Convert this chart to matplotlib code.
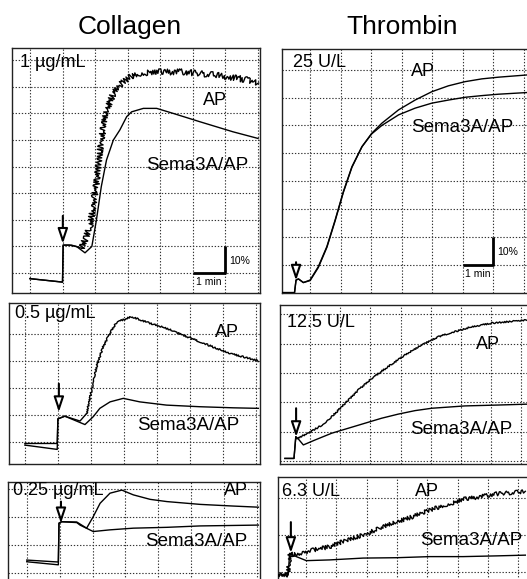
import matplotlib
matplotlib.use("Agg")
import matplotlib.pyplot as plt

plt.rcParams["font.family"] = ["Liberation Sans", "DejaVu Sans"]

# Collagen 1 ug/mL
col1_ap_t = [0, 1.0, 1.02, 1.28, 1.59, 1.84, 2.04, 2.19, 2.35, 2.56, 2.86, 3.17, 3.68, 4.19, 4.7, 5.21, 5.72, 6.23, 6.75, 7.0]
col1_ap_y = [-2.1, -3.4, 10.5, 10.5, 9.3, 17.4, 33.7, 50, 61.3, 67.5, 71.9, 74.4, 75.6, 75.6, 75.6, 75, 74.4, 73.5, 72.4, 71.0]
col1_sema_t = [0, 1.0, 1.02, 1.2, 1.43, 1.69, 1.9, 2.04, 2.19, 2.35, 2.56, 2.76, 2.97, 3.12, 3.48, 3.89, 4.4, 5.21, 6.23, 7.0]
col1_sema_y = [-2.1, -3.4, 10.5, 10.5, 10, 7.6, 10, 19.9, 32.5, 42.5, 50, 53.8, 58.8, 60.6, 61.9, 61.9, 60, 56.9, 53.1, 50.6]

# Collagen 0.5 ug/mL
col05_ap_t = [0, 0.98, 1.0, 1.21, 1.67, 1.87, 2.02, 2.17, 2.37, 2.63, 2.78, 3.23, 3.79, 4.29, 4.8, 5.3, 5.81, 6.31, 7.07]
col05_ap_y = [-0.6, -0.6, 8.5, 9.5, 7.7, 10.5, 19.1, 27.8, 35.2, 41.4, 44.4, 46.3, 43.9, 42, 39.5, 37, 34.6, 32.4, 30]
col05_sema_t = [0, 0.98, 1.0, 1.21, 1.82, 2.07, 2.27, 2.58, 2.98, 3.48, 4.29, 5.3, 6.31, 7.07]
col05_sema_y = [-1.2, -2.8, 8.5, 9.5, 6.4, 9.3, 12.4, 14.8, 16.1, 14.8, 13.6, 13, 12.6, 12.4]

# Collagen 0.25 ug/mL
col025_ap_t = [0, 0.96, 0.98, 1.06, 1.52, 1.82, 2.02, 2.23, 2.53, 2.89, 3.24, 3.75, 4.26, 5.27, 6.28, 7.04]
col025_ap_y = [-5.4, -6.1, 7.8, 8.3, 8.2, 6.0, 10.1, 14.9, 18.5, 19.6, 17.9, 16.3, 15.5, 14.5, 13.9, 13.5]
col025_sema_t = [0, 0.96, 0.98, 1.06, 1.52, 1.62, 2.02, 2.53, 3.24, 4.26, 5.27, 7.04]
col025_sema_y = [-6.0, -7.1, 7.8, 8.3, 8.0, 7.1, 4.8, 5.4, 6.0, 6.3, 6.8, 7.1]

# Thrombin 25 U/L
thr25_ap_t = [0.09, 0.49, 0.54, 0.62, 0.78, 1.0, 1.27, 1.55, 1.82, 2.09, 2.37, 2.70, 3.02, 3.35, 3.90, 4.44, 4.99, 5.53, 6.08, 6.63, 7.17, 8.11]
thr25_ap_y = [-9.9, -9.9, -5.4, -5.0, -6.3, -5.4, -0.6, 6.6, 16.1, 26.3, 35.2, 42.4, 47.2, 50.8, 55.6, 59.1, 62.1, 64.2, 65.7, 66.7, 67.3, 68.1]
thr25_sema_t = [0.09, 0.49, 0.54, 0.62, 0.78, 1.0, 1.27, 1.55, 1.82, 2.09, 2.37, 2.70, 3.02, 3.35, 3.90, 4.44, 4.99, 5.53, 6.08, 6.63, 7.17, 8.11]
thr25_sema_y = [-9.9, -9.9, -5.4, -5.0, -6.3, -5.6, -0.9, 6.3, 15.8, 26.0, 35.0, 42.4, 47.0, 50.0, 53.8, 56.2, 58.0, 59.1, 60.1, 60.7, 61.2, 61.8]

# Thrombin 12.5 U/L
thr12_ap_t = [0.17, 0.47, 0.53, 0.56, 0.94, 1.5, 2.05, 2.6, 3.04, 3.59, 4.15, 4.7, 5.25, 5.8, 6.35, 7.02, 7.57, 8.19]
thr12_ap_y = [-9.1, -9.1, -1.7, -2.3, -0.5, 2.9, 8.5, 14.2, 18.2, 22.2, 26.2, 29.6, 32.4, 34.1, 35.8, 37, 37.5, 38.1]
thr12_sema_t = [0.17, 0.47, 0.53, 0.6, 0.78, 1.17, 1.72, 2.27, 2.82, 3.37, 3.92, 4.48, 5.03, 6.13, 7.23, 8.19]
thr12_sema_y = [-9.1, -9.1, -1.7, -2.3, -4.5, -2.8, -0.5, 1.2, 2.9, 4.6, 6.0, 7.2, 8.0, 8.8, 9.1, 9.4]

# Thrombin 6.3 U/L
thr6_ap_t = [0.08, 0.41, 0.46, 0.57, 1.23, 1.78, 2.33, 2.88, 3.43, 3.98, 4.53, 5.08, 5.63, 6.18, 6.73, 7.28, 8.23]
thr6_ap_y = [-10.9, -10.9, -5.0, -5.4, -4.1, -3.2, -1.4, 0, 1.8, 3.6, 5.0, 6.8, 8.2, 9.7, 10.4, 11.2, 11.8]
thr6_sema_t = [0.08, 0.41, 0.46, 0.68, 1.01, 1.78, 2.88, 3.98, 5.08, 6.18, 7.28, 8.23]
thr6_sema_y = [-10.9, -10.9, -5.0, -5.9, -7.0, -6.8, -6.3, -6.2, -5.9, -5.9, -5.7, -5.5]

column_titles = ["Collagen", "Thrombin"]

W, H = 527, 579


def make_axes(fig, left, right, top, bottom):
    # posiciones en píxeles de la imagen original
    return fig.add_axes([left / W, 1 - bottom / H, (right - left) / W, (bottom - top) / H])


def plot_trace(ax, t, y, noise=None):
    if noise is None:
        ax.plot(t, y, color="black", lw=1.0, zorder=3)
        return
    scale, length, rand, start = noise
    # tramo inicial liso, resto con ruido de registro
    ax.plot(t[:start + 1], y[:start + 1], color="black", lw=1.0, zorder=3)
    line, = ax.plot(t[start:], y[start:], color="black", lw=1.0, zorder=3)
    line.set_sketch_params(scale, length, rand)


def draw_panel(ax, xlim, ylim, xgrid, ygrid, ap, sema, conc, conc_xy, ap_xy, sema_xy,
               arrow, ap_noise=None):
    ax.set_xlim(*xlim)
    ax.set_ylim(*ylim)
    ax.set_xticks([])
    ax.set_yticks([])
    for s in ax.spines.values():
        s.set_linewidth(1.0)
        s.set_color("#222222")

    for gx in xgrid:
        ax.axvline(gx, color="#333333", lw=0.8, ls=(0, (1.2, 1.6)), zorder=1)
    for gy in ygrid:
        ax.axhline(gy, color="#333333", lw=0.8, ls=(0, (1.2, 1.6)), zorder=1)

    plot_trace(ax, ap[0], ap[1], ap_noise)
    plot_trace(ax, sema[0], sema[1])

    ax.text(conc_xy[0], conc_xy[1], conc, fontsize=13, ha="left", va="center", zorder=4)
    ax.text(ap_xy[0], ap_xy[1], "AP", fontsize=13, ha="left", va="center", zorder=4)
    ax.text(sema_xy[0], sema_xy[1], "Sema3A/AP", fontsize=13.5, ha="left", va="center", zorder=4)

    ax.annotate("", xy=(arrow[0], arrow[2]), xytext=(arrow[0], arrow[1]),
                arrowprops=dict(arrowstyle="-|>,head_length=0.9,head_width=0.3",
                                color="black", lw=1.5, fc="white", shrinkA=0, shrinkB=0),
                zorder=5)


def scale_bar(ax, x0, y0):
    ax.plot([x0, x0 + 1, x0 + 1], [y0, y0, y0 + 10], color="black", lw=2.0,
            solid_capstyle="butt", zorder=4)
    ax.text(x0 + 1.12, y0 + 4.5, "10%", fontsize=7.5, ha="left", va="center")
    ax.text(x0 + 0.5, y0 - 3.3, "1 min", fontsize=7.5, ha="center", va="center")


def main():
    fig = plt.figure(figsize=(W / 100, H / 100), dpi=100)

    fig.text(130 / W, 1 - 27 / H, column_titles[0], fontsize=19, ha="center", va="center")
    fig.text(402 / W, 1 - 27 / H, column_titles[1], fontsize=19, ha="center", va="center")

    # Collagen 1 ug/mL
    ax = make_axes(fig, 12, 260, 48, 293)
    draw_panel(ax, (-0.55, 7.06), (-7.5, 84.6), range(0, 8), range(0, 90, 10),
               (col1_ap_t, col1_ap_y), (col1_sema_t, col1_sema_y),
               "1 \u00b5g/mL", (-0.3, 79), (5.3, 65), (3.55, 40.6),
               (1.01, 21.5, 11.0), ap_noise=(3.0, 1.5, 2, 4))
    scale_bar(ax, 5, 0)

    # Thrombin 25 U/L
    ax = make_axes(fig, 282, 532, 49, 293)
    draw_panel(ax, (0.08, 8.27), (-10.04, 77.4), range(1, 9), range(0, 80, 10),
               (thr25_ap_t, thr25_ap_y), (thr25_sema_t, thr25_sema_y),
               "25 U/L", (0.45, 72.4), (4.3, 69.2), (4.3, 49.1),
               (0.54, 1.0, -5.6))
    scale_bar(ax, 6, 0)

    # Collagen 0.5 ug/mL
    ax = make_axes(fig, 9, 260, 303, 464)
    draw_panel(ax, (-0.48, 7.12), (-8.2, 51.4), range(0, 8), range(0, 50, 10),
               (col05_ap_t, col05_ap_y), (col05_sema_t, col05_sema_y),
               "0.5 \u00b5g/mL", (-0.3, 47.6), (5.75, 40.3), (3.4, 6.2),
               (1.03, 21.5, 11), ap_noise=(0.8, 2, 2, 5))

    # Thrombin 12.5 U/L
    ax = make_axes(fig, 280, 532, 305, 464)
    draw_panel(ax, (0.007, 8.35), (-11.0, 43.2), range(1, 9), range(-10, 50, 10),
               (thr12_ap_t, thr12_ap_y), (thr12_sema_t, thr12_sema_y),
               "12.5 U/L", (0.25, 37.1), (6.5, 29.6), (4.3, 0.6),
               (0.54, 8.0, -1.8), ap_noise=(0.7, 2, 2, 3))

    # Collagen 0.25 ug/mL
    ax = make_axes(fig, 8, 260, 482, 590)
    draw_panel(ax, (-0.57, 7.09), (-16.1, 22.5), range(0, 8), range(-10, 30, 10),
               (col025_ap_t, col025_ap_y), (col025_sema_t, col025_sema_y),
               "0.25 \u00b5g/mL", (-0.42, 19.6), (6.0, 19.6), (3.6, 1.2),
               (1.04, 15.5, 7.75))

    # Thrombin 6.3 U/L
    ax = make_axes(fig, 278, 532, 477, 590)
    draw_panel(ax, (0.076, 8.45), (-15.0, 15.8), range(1, 9), range(-10, 20, 10),
               (thr6_ap_t, thr6_ap_y), (thr6_sema_t, thr6_sema_y),
               "6.3 U/L", (0.22, 11.8), (4.6, 11.8), (4.75, -1.4),
               (0.5, 3.5, -4.9), ap_noise=(2.0, 1.5, 2, 0))

    fig.savefig("out.png", dpi=100)
    plt.close(fig)


if __name__ == "__main__":
    main()
